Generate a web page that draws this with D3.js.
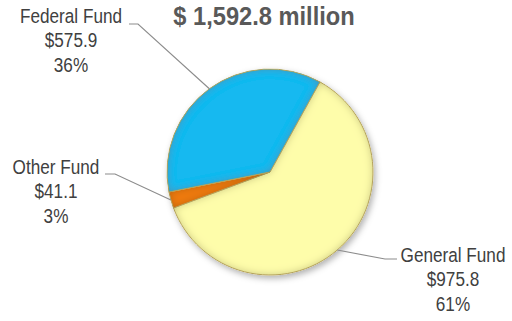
<!DOCTYPE html>
<html><head><meta charset="utf-8">
<script src="https://cdn.jsdelivr.net/npm/d3@7"></script>
<style>html,body{margin:0;padding:0;background:#fff;}svg{display:block;}</style>
</head><body>
<svg id="c" width="512" height="321"></svg>
<script>
const categories = ["General Fund", "Other Fund", "Federal Fund"];
const values = [975.8, 41.1, 575.9];
const valueLabels = ["$975.8", "$41.1", "$575.9"];
const percentLabels = ["61%", "3%", "36%"];
const totalLabel = "$ 1,592.8 million";

const colors = ["#FEFDAA", "#F07A14", "#14B9F0"];
const svg = d3.select("#c");
const cx = 270, cy = 172, r = 103;
const start = 29 * Math.PI / 180;

const defs = svg.append("defs");
const sh = defs.append("filter").attr("id","shadow").attr("x","-20%").attr("y","-20%").attr("width","140%").attr("height","140%");
sh.append("feDropShadow").attr("dx",2).attr("dy",3).attr("stdDeviation",3).attr("flood-color","#000").attr("flood-opacity",0.3);
const bv = defs.append("filter").attr("id","bevel").attr("x","-5%").attr("y","-5%").attr("width","110%").attr("height","110%");
bv.append("feGaussianBlur").attr("in","SourceAlpha").attr("stdDeviation",4).attr("result","blur");
bv.append("feComposite").attr("in","SourceAlpha").attr("in2","blur").attr("operator","arithmetic").attr("k2",1).attr("k3",-1).attr("result","edge");
bv.append("feFlood").attr("flood-color","#5a4a00").attr("flood-opacity",0.55);
bv.append("feComposite").attr("in2","edge").attr("operator","in").attr("result","shade");
const m = bv.append("feMerge");
m.append("feMergeNode").attr("in","SourceGraphic");
m.append("feMergeNode").attr("in","shade");

const pie = d3.pie().sort(null).startAngle(start).endAngle(start + 2*Math.PI);
const arcs = pie(values);
const arc = d3.arc().innerRadius(0).outerRadius(r);

const g = svg.append("g").attr("transform", `translate(${cx},${cy})`);
const shadowG = g.append("g").attr("filter","url(#shadow)");
shadowG.selectAll("path").data(arcs).join("path")
  .attr("d", arc).attr("fill", (d,i)=>colors[i])
  .attr("stroke","#C8B56A").attr("stroke-width",1)
  .attr("filter","url(#bevel)");

// labels
const labelPos = [
  {x:453, y:262, elbow:[385,259], end:[397,259]},
  {x:56,  y:174, elbow:[115,174], end:[105,174]},
  {x:71,  y:23,  elbow:[138,24],  end:[129,24]}
];
arcs.forEach((a,i)=>{
  const mid = (a.startAngle + a.endAngle)/2;
  const px = cx + r*Math.sin(mid), py = cy - r*Math.cos(mid);
  const L = labelPos[i];
  svg.append("polyline")
    .attr("points", `${px},${py} ${L.elbow[0]},${L.elbow[1]} ${L.end[0]},${L.end[1]}`)
    .attr("fill","none").attr("stroke","#8c8c8c").attr("stroke-width",1.1);
  const t = svg.append("text").attr("text-anchor","middle")
    .attr("transform", `translate(${L.x},0) scale(0.88,1)`)
    .attr("font-family","Liberation Sans, Arial, sans-serif").attr("font-size",19.5).attr("fill","#404040");
  [categories[i], valueLabels[i], percentLabels[i]].forEach((s,k)=>{
    t.append("tspan").attr("x", 0).attr("y", L.y + k*24.5).text(s);
  });
});

svg.append("text").attr("text-anchor","middle")
  .attr("transform","translate(264,25) scale(0.91,1)")
  .attr("font-family","Liberation Sans, Arial, sans-serif").attr("font-weight","bold")
  .attr("font-size",26).attr("fill","#595959")
  .text(totalLabel);
</script>
</body></html>
